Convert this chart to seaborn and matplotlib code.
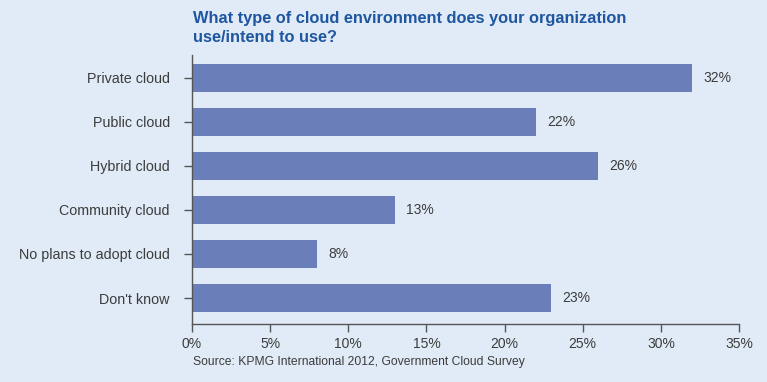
import matplotlib
matplotlib.use("Agg")
import matplotlib.pyplot as plt
import seaborn as sns
import pandas as pd

# Survey answers (percent of respondents)
categories = ["Private cloud", "Public cloud", "Hybrid cloud",
              "Community cloud", "No plans to adopt cloud", "Don't know"]
values = [32, 22, 26, 13, 8, 23]
xticks = [0, 5, 10, 15, 20, 25, 30, 35]

df = pd.DataFrame({"category": categories, "value": values})

bg = "#e0ebf7"
bar_color = "#6a7eb9"
text_grey = "#3c3c3c"

sns.set_style("white")
plt.rcParams['font.family'] = ['Liberation Sans', 'DejaVu Sans']

fig = plt.figure(figsize=(7.67, 3.82), dpi=100, facecolor=bg)
ax = fig.add_axes([192 / 767, 1 - 324 / 382, (739 - 192) / 767, (324 - 55) / 382])
ax.set_facecolor(bg)

sns.barplot(data=df, x="value", y="category", orient="h", color=bar_color,
            width=0.62, saturation=1, linewidth=0, ax=ax)

for i, v in enumerate(values):
    ax.text(v + 0.7, i, f"{v}%", va="center", ha="left", fontsize=10, color=text_grey)

ax.set_xlim(0, 35)
ax.set_ylim(5.59, -0.52)
ax.set_xticks(xticks)
ax.set_xticklabels([f"{t}%" for t in xticks], fontsize=10, color=text_grey)
ax.set_yticks(range(len(categories)))
ax.set_yticklabels(categories, fontsize=10.3, color=text_grey)
ax.set_xlabel("")
ax.set_ylabel("")

for side in ["top", "right"]:
    ax.spines[side].set_visible(False)
for side in ["left", "bottom"]:
    ax.spines[side].set_color("#555555")
    ax.spines[side].set_linewidth(1.0)
ax.tick_params(axis="both", which="both", length=6, width=1.0, color="#555555",
               direction="out", bottom=True, left=True)
ax.tick_params(axis="y", pad=10)
ax.tick_params(axis="x", pad=3)

fig.text(193 / 767, 1 - 11 / 382, "What type of cloud environment does your organization\nuse/intend to use?",
         ha="left", va="top", fontsize=11.8, fontweight="bold", color="#1f56a0",
         linespacing=1.3)
fig.text(193 / 767, 1 - 362 / 382, "Source: KPMG International 2012, Government Cloud Survey",
         ha="left", va="center", fontsize=8.7, color=text_grey)

fig.savefig("out.png", dpi=100, facecolor=bg)
